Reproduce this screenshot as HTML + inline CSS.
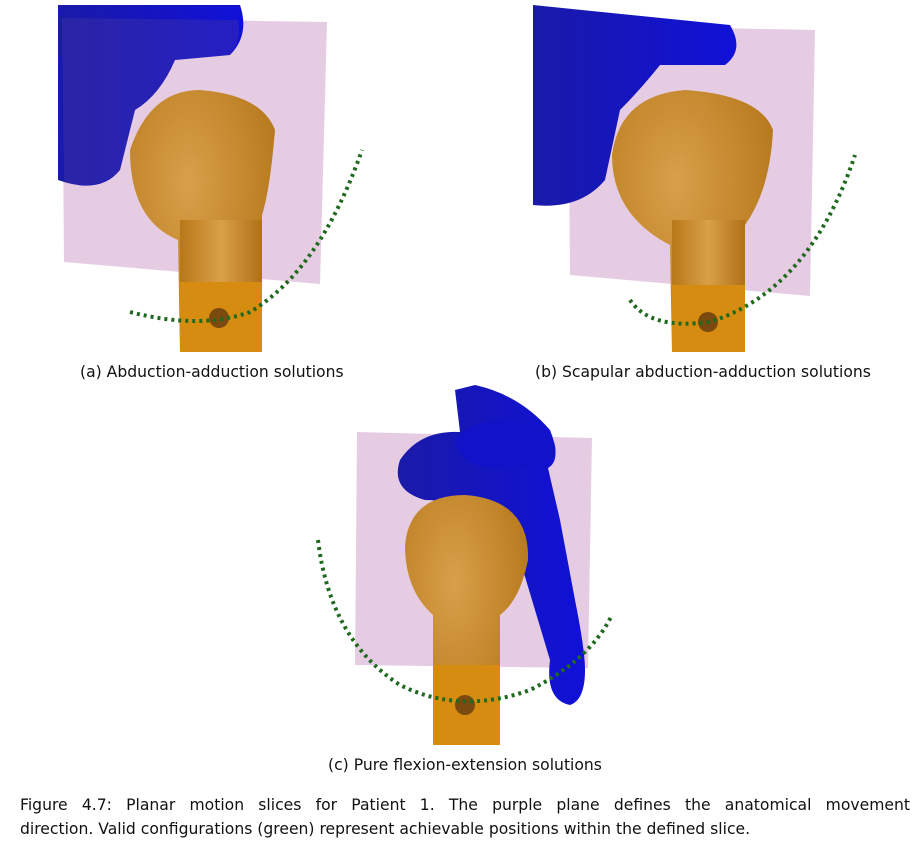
<!DOCTYPE html>
<html><head><meta charset="utf-8"><style>
html,body{margin:0;padding:0;background:#fff;}
body{width:922px;height:858px;position:relative;overflow:hidden;font-family:"DejaVu Sans","Liberation Sans",sans-serif;}
.cap{position:absolute;font-size:15.6px;color:#111;white-space:nowrap;}
.l1{position:absolute;left:20px;top:796px;width:890px;font-size:15.6px;color:#111;text-align:justify;text-align-last:justify;white-space:nowrap;}
.l2{position:absolute;left:20px;top:820px;font-size:15.6px;color:#111;white-space:nowrap;}
</style></head><body>
<svg width="922" height="790" style="position:absolute;left:0;top:0">
<defs>
<radialGradient id="og" cx="0.4" cy="0.35" r="0.7"><stop offset="0" stop-color="#d9a04a"/><stop offset="1" stop-color="#b47518"/></radialGradient>
<linearGradient id="sh" x1="0" x2="1"><stop offset="0" stop-color="#b87818"/><stop offset="0.5" stop-color="#d9a048"/><stop offset="1" stop-color="#b07018"/></linearGradient>
<linearGradient id="bl" x1="0" x2="1"><stop offset="0" stop-color="#1a1aa8"/><stop offset="1" stop-color="#1010d8"/></linearGradient>
</defs>
<polygon points="62,18 327,22 320,284 64,262" fill="#e6cce2"/>
<path d="M58 5 L240 5 Q250 35 230 55 L175 60 Q160 95 135 110 L120 170 Q100 195 58 180 Z" fill="url(#bl)"/>
<path d="M62 18 L238 20 Q242 40 230 55 L175 60 Q160 95 135 110 L120 170 Q100 192 64 182 Z" fill="#4a3aa0" fill-opacity="0.35"/>
<path d="M130 150 Q150 90 200 90 Q262 95 275 130 Q270 190 262 215 L262 352 L180 352 L178 240 Q130 220 130 150Z" fill="url(#og)"/>
<rect x="180" y="220" width="82" height="132" fill="url(#sh)"/>
<rect x="180" y="282" width="82" height="70" fill="#d68c10"/>
<circle cx="219" cy="318" r="10" fill="#7a4a10"/>
<path d="M130 312 Q200 330 250 312 Q320 270 362 150" fill="none" stroke="#1f6a1f" stroke-width="4" stroke-dasharray="3 4"/>
<polygon points="568,25 815,30 810,296 570,275" fill="#e6cce2"/>
<path d="M533 5 L730 25 Q745 50 725 65 L660 65 Q640 90 620 110 L605 180 Q580 210 533 205 Z" fill="url(#bl)"/>
<path d="M612 155 Q620 95 685 90 Q760 95 773 130 Q770 190 745 225 L745 352 L672 352 L670 245 Q612 215 612 155Z" fill="url(#og)"/>
<rect x="672" y="220" width="73" height="132" fill="url(#sh)"/>
<rect x="672" y="285" width="73" height="67" fill="#d68c10"/>
<circle cx="708" cy="322" r="10" fill="#7a4a10"/>
<path d="M630 300 Q650 330 710 322 Q810 290 855 155" fill="none" stroke="#1f6a1f" stroke-width="4" stroke-dasharray="3 4"/>
<polygon points="357,432 592,438 588,668 355,665" fill="#e6cce2"/>
<path d="M455 390 L475 385 Q520 395 550 430 Q562 460 548 468 L560 520 L575 600 Q585 650 585 670 Q585 700 570 705 Q545 700 550 660 L520 560 L500 520 Q460 500 425 500 Q390 490 400 460 Q420 430 460 432 Z" fill="url(#bl)"/>
<path d="M455 440 Q470 420 505 420 Q560 425 555 455 Q540 470 500 468 Q458 468 455 440Z" fill="#1212c8"/>
<path d="M405 545 Q410 495 465 495 Q530 500 528 560 Q520 600 500 615 L500 745 L433 745 L433 615 Q405 590 405 545Z" fill="url(#og)"/>
<rect x="433" y="665" width="67" height="80" fill="#d68c10"/>
<circle cx="465" cy="705" r="10" fill="#7a4a10"/>
<path d="M318 540 Q330 640 400 685 Q460 715 530 690 Q590 660 612 615" fill="none" stroke="#1f6a1f" stroke-width="4" stroke-dasharray="3 4"/>
</svg>
<div class="cap" style="left:80px;top:363px">(a) Abduction-adduction solutions</div>
<div class="cap" style="left:535px;top:363px">(b) Scapular abduction-adduction solutions</div>
<div class="cap" style="left:328px;top:756px">(c) Pure flexion-extension solutions</div>
<div class="l1">Figure 4.7: Planar motion slices for Patient 1. The purple plane defines the anatomical movement</div>
<div class="l2">direction. Valid configurations (green) represent achievable positions within the defined slice.</div>
</body></html>
